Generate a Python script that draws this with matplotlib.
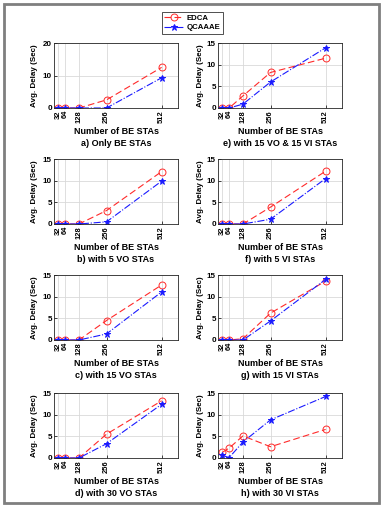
import matplotlib
matplotlib.use("Agg")
import matplotlib.pyplot as plt
from matplotlib.patches import Rectangle

plt.rcParams["font.family"] = ["Liberation Sans", "DejaVu Sans"]
plt.rcParams["font.weight"] = "bold"

# x positions (number of BE STAs)
be_stas = [32, 64, 128, 256, 512]

# subplot titles, in left column / right column order
titles = [
    "a) Only BE STAs",
    "e) with 15 VO & 15 VI STAs",
    "b) with 5 VO STAs",
    "f) with 5 VI STAs",
    "c) with 15 VO STAs",
    "g) with 15 VI STAs",
    "d) with 30 VO STAs",
    "h) with 30 VI STAs",
]

edca = [
    [0, 0, 0, 2.5, 12.5],
    [0, 0, 2.8, 8.2, 11.5],
    [0, 0, 0, 3.1, 12.1],
    [0, 0, 0, 3.9, 12.2],
    [0, 0, 0, 4.5, 12.7],
    [0, 0, 0.3, 6.2, 13.6],
    [0, 0, 0, 5.5, 13.2],
    [1.3, 2.3, 5.1, 2.6, 6.6],
]

qcaaae = [
    [0, 0, 0, 0, 9.3],
    [0, 0, 0.9, 6.0, 13.9],
    [0, 0, 0, 0.5, 9.9],
    [0, 0, 0, 1.1, 10.5],
    [0, 0, 0, 1.4, 11.1],
    [0, 0, 0, 4.4, 14.0],
    [0, 0, 0, 3.3, 12.4],
    [0.6, 0.1, 3.7, 8.8, 14.2],
]

y_max = [20, 15, 15, 15, 15, 15, 15, 15]

W, H = 383, 507
fig = plt.figure(figsize=(W / 100, H / 100), dpi=100)

# outer frame
fig.patches.append(
    Rectangle((4 / W, 4 / H), 375 / W, 499 / H, transform=fig.transFigure,
              fill=False, edgecolor="#7f7f7f", linewidth=2)
)

col_x = [54, 218]
col_w = 124
row_top = [43, 159, 275, 393]
ax_h = 65
ylab_x = [35, 200]

handles = None
for i in range(8):
    r, c = i // 2, i % 2
    left = col_x[c] / W
    bottom = (H - row_top[r] - ax_h) / H
    ax = fig.add_axes([left, bottom, col_w / W, ax_h / H])

    l1, = ax.plot(be_stas, edca[i], "o--", color="#ff2a2a", lw=0.8,
                  markersize=5, markerfacecolor="none", markeredgewidth=0.7,
                  dashes=(6, 3), label="EDCA")
    l2, = ax.plot(be_stas, qcaaae[i], "*-.", color="#1a1aff", lw=0.8,
                  markersize=5, markeredgewidth=0.7, label="QCAAAE")
    handles = [l1, l2]

    ax.set_xlim(12, 588)
    ax.set_ylim(0, y_max[i])
    ax.set_xticks(be_stas)
    ax.set_xticklabels([str(v) for v in be_stas], rotation=90, fontsize=5.4,
                       fontweight="bold")
    if y_max[i] == 20:
        ax.set_yticks([0, 10, 20])
    else:
        ax.set_yticks([0, 5, 10, 15])
    ax.tick_params(axis="y", labelsize=5.8)
    ax.tick_params(direction="in", length=2, width=0.5, pad=1.5)
    ax.grid(True, color="#d9d9d9", linewidth=0.6)
    ax.set_axisbelow(True)
    for s in ax.spines.values():
        s.set_linewidth(0.6)
        s.set_color("#262626")

    cx = (col_x[c] + col_w / 2) / W
    yb = row_top[r] + ax_h
    fig.text(cx, (H - yb - 23) / H, "Number of BE STAs", ha="center",
             va="center", fontsize=6.5, fontweight="bold")
    fig.text(cx, (H - yb - 35) / H, titles[i], ha="center", va="center",
             fontsize=6.5, fontweight="bold")
    fig.text(ylab_x[c] / W, (H - row_top[r] - ax_h / 2) / H,
             "Avg. Delay (Sec)", rotation=90, ha="center", va="center",
             fontsize=5.8, fontweight="bold")

fig.legend(handles=handles, loc="center", bbox_to_anchor=(192.5 / W, (H - 23) / H),
           fontsize=5.6, frameon=True, fancybox=False, edgecolor="black",
           handlelength=2.4, borderpad=0.3, labelspacing=0.25,
           handletextpad=0.5, borderaxespad=0).get_frame().set_linewidth(0.6)

fig.savefig("out.png", dpi=100)
